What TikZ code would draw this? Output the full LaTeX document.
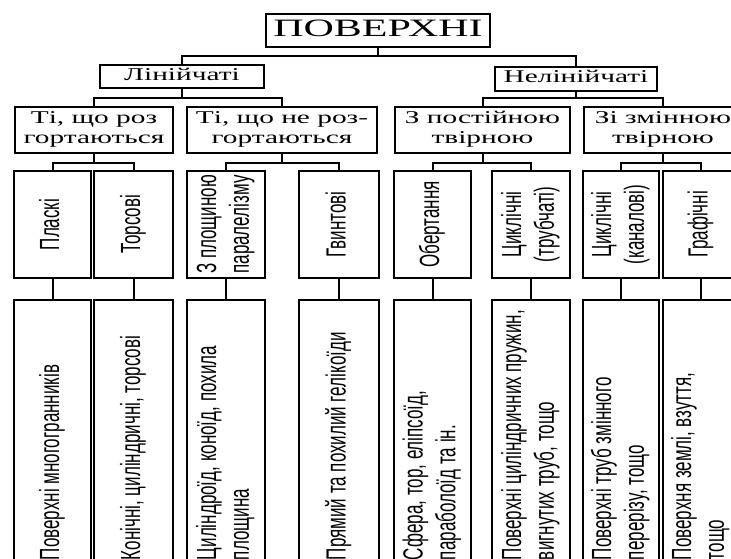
\documentclass[tikz,border=0pt]{standalone}
\usepackage{graphicx}
\usepackage{fontspec}
\setmainfont{Liberation Serif}
\newfontfamily\narrowsans{Liberation Sans}

\newcommand{\widetext}[2]{%
    \scalebox{#1}[1]{\begin{tabular}{@{}c@{}}#2\end{tabular}}}
\newcommand{\uptext}[1]{%
    \rotatebox{90}{\scalebox{1}[1.63]{\begin{tabular}{@{}c@{}}#1\end{tabular}}}}
\newcommand{\uplongtext}[1]{%
    \rotatebox{90}{\scalebox{1}[1.63]{\makebox[250pt][l]{\begin{tabular}{@{}l@{}}#1\end{tabular}}}}}
\newcommand{\branch}[3]{%
    \draw[link] (#1.south) -- ++(0,#3) -| (#2.north);}

\begin{document}
\begin{tikzpicture}[x=1pt, y=-1pt,
    box/.style={draw, line width=2pt, inner sep=0pt},
    head/.style={box, font=\fontsize{18}{20}\selectfont},
    vert/.style={box, font=\narrowsans\fontsize{17}{20}\selectfont, minimum height=107pt},
    leaf/.style={box, font=\narrowsans\fontsize{17}{20}\selectfont, minimum height=270pt},
    link/.style={line width=2pt}]

\useasboundingbox (0,0) rectangle (731,559);
\clip (0,0) rectangle (731,559);

% Root
\node[box, font=\fontsize{25}{28}\selectfont, minimum width=224pt, minimum height=33pt]
    (poverkhni) at (378,30.5) {\widetext{1.68}{ПОВЕРХНІ}};

% Two kinds
\node[head, minimum width=164pt, minimum height=23pt] (linijchati) at (182,76.5) {\widetext{1.63}{Лінійчаті}};
\node[head, minimum width=162pt, minimum height=24pt] (nelinijchati) at (576,79) {\widetext{1.63}{Нелінійчаті}};

% Second level
\node[head, minimum width=158pt, minimum height=46pt] (rozg) at (94,130) {\widetext{1.63}{Ті, що роз\\гортаються}};
\node[head, minimum width=190pt, minimum height=46pt] (nerozg) at (282,130) {\widetext{1.63}{Ті, що не роз-\\гортаються}};
\node[head, minimum width=175pt, minimum height=46pt] (postijna) at (482.5,130) {\widetext{1.63}{З постійною\\твірною}};
\node[head, minimum width=158pt, minimum height=46pt] (zminna) at (663,130) {\widetext{1.63}{Зі змінною\\твірною}};

% Third level
\node[vert, minimum width=77pt] (plaski) at (52.5,224.5) {\uptext{Пласкі}};
\node[vert, minimum width=79pt] (torsovi) at (133.5,224.5) {\uptext{Торсові}};
\node[vert, minimum width=78pt] (ploshch) at (226,224.5) {\uptext{З площиною\\паралелізму}};
\node[vert, minimum width=80pt] (gvynt) at (339,224.5) {\uptext{Гвинтові}};
\node[vert, minimum width=77pt] (obert) at (432.5,224.5) {\uptext{Обертання}};
\node[vert, minimum width=78pt] (tsykltrub) at (531,224.5) {\uptext{Циклічні\\(трубчаті)}};
\node[vert, minimum width=76pt] (tsyklkan) at (621,224.5) {\uptext{Циклічні\\(каналові)}};
\node[vert, minimum width=76pt] (graf) at (701,224.5) {\uptext{Графічні}};

% Examples
\node[leaf, minimum width=77pt] (plaskiex) at (52.5,435) {\uplongtext{Поверхні многогранників}};
\node[leaf, minimum width=79pt] (torsoviex) at (133.5,435) {\uplongtext{Конічні, циліндричні, торсові}};
\node[leaf, minimum width=78pt] (ploshchex) at (226,435) {\uplongtext{Циліндроїд, коноїд, похила\\площина}};
\node[leaf, minimum width=80pt] (gvyntex) at (339,435) {\uplongtext{Прямий та похилий гелікоїди}};
\node[leaf, minimum width=77pt] (obertex) at (432.5,435) {\uplongtext{Сфера, тор, еліпсоїд,\\параболоїд та ін.}};
\node[leaf, minimum width=78pt] (tsykltrubex) at (531,435) {\uplongtext{Поверхні циліндричних пружин,\\вигнутих труб, тощо}};
\node[leaf, minimum width=76pt] (tsyklkanex) at (621,435) {\uplongtext{Поверхні труб змінного\\перерізу, тощо}};
\node[leaf, minimum width=76pt] (grafex) at (701,435) {\uplongtext{Поверхня землі, взуття,\\тощо}};

% Connectors
\branch{poverkhni}{linijchati}{8.5}
\branch{poverkhni}{nelinijchati}{8.5}
\branch{linijchati}{rozg}{9}
\branch{linijchati}{nerozg}{9}
\branch{nelinijchati}{postijna}{6}
\branch{nelinijchati}{zminna}{6}
\branch{rozg}{plaski}{9}
\branch{rozg}{torsovi}{9}
\branch{nerozg}{ploshch}{9}
\branch{nerozg}{gvynt}{9}
\branch{postijna}{obert}{9}
\branch{postijna}{tsykltrub}{9}
\branch{zminna}{tsyklkan}{9}
\branch{zminna}{graf}{9}

\foreach \n in {plaski,torsovi,ploshch,gvynt,obert,tsykltrub,tsyklkan,graf}
    \draw[link] (\n.south) -- (\n ex.north);

\end{tikzpicture}
\end{document}
